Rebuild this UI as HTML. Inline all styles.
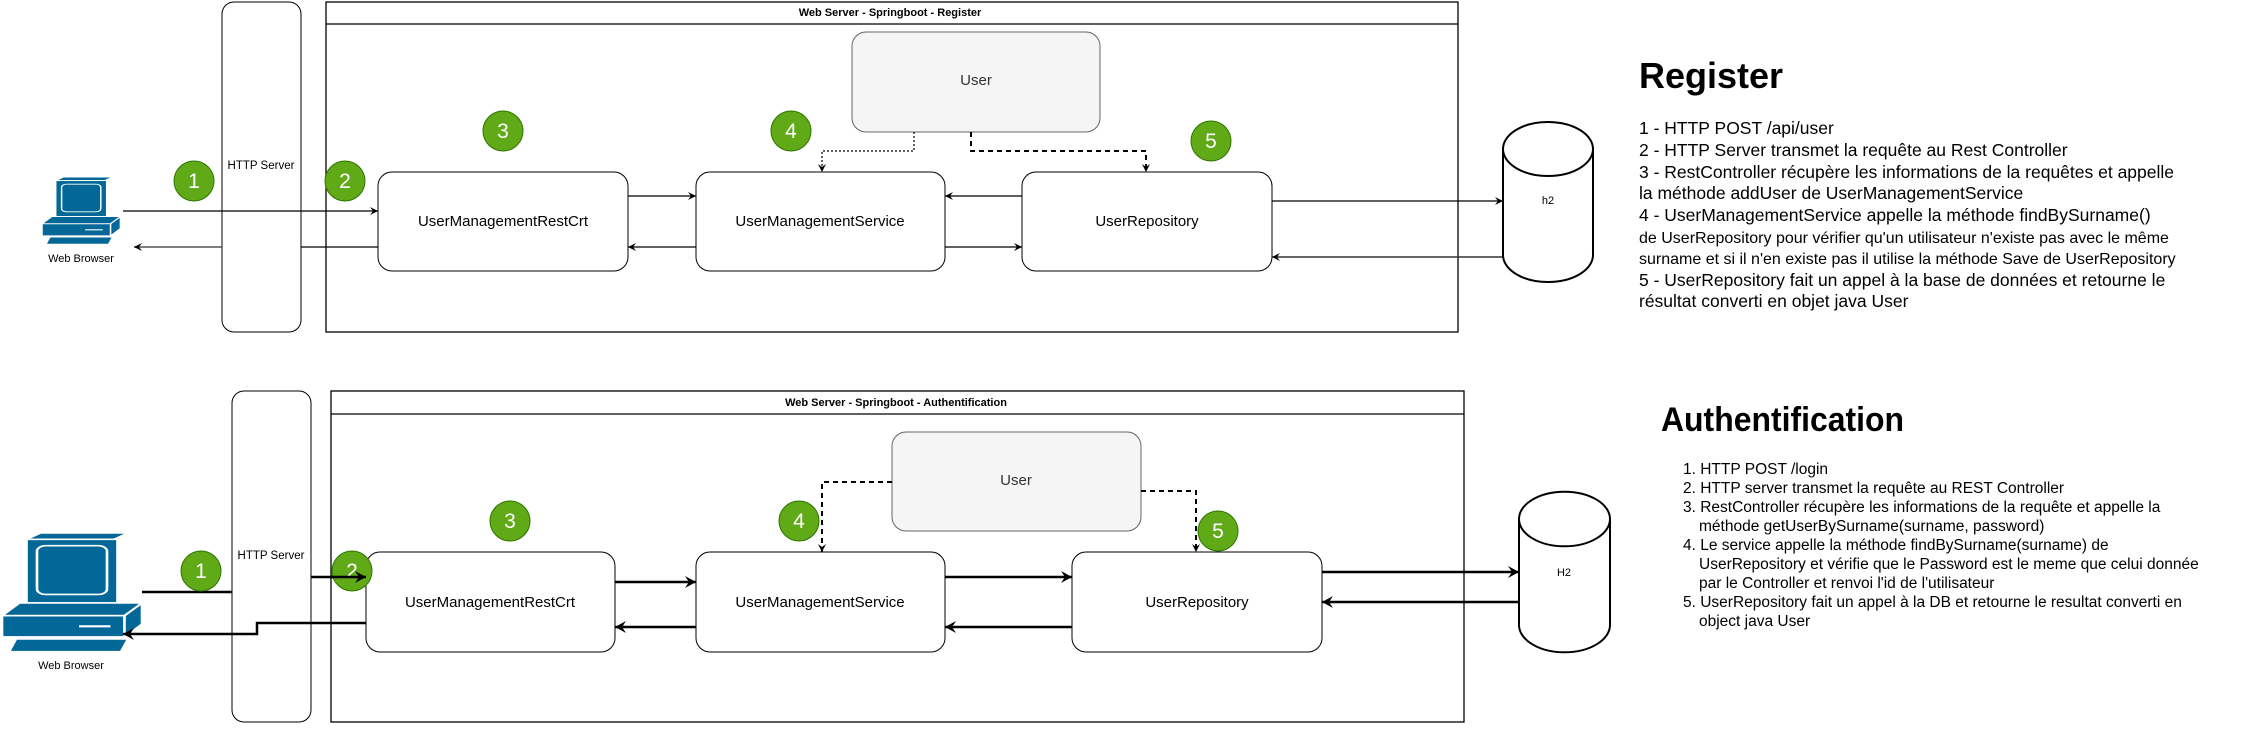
<!DOCTYPE html>
<html><head><meta charset="utf-8"><style>
html,body{margin:0;padding:0;background:#fff;}
svg{display:block;font-family:"Liberation Sans",Arial,sans-serif;}
</style></head><body>
<svg width="2253" height="750" viewBox="0 0 2253 750" xmlns="http://www.w3.org/2000/svg">
<defs>
<marker id="a" markerWidth="10" markerHeight="10" refX="8" refY="5" orient="auto" markerUnits="userSpaceOnUse"><path d="M0,1 L8,5 L0,9 L3,5 Z" fill="#000"/></marker>
<marker id="b" markerWidth="14" markerHeight="14" refX="11" refY="7" orient="auto" markerUnits="userSpaceOnUse"><path d="M0,1 L11,7 L0,13 L4,7 Z" fill="#000"/></marker>
<g id="pc">
<polygon points="14,6 24,0 24,58 14,64" fill="#036897" stroke="#fff" stroke-width="1.5"/>
<polygon points="14,6 64,6 72,0 22,0" fill="#036897" stroke="#fff" stroke-width="1.5"/>
<rect x="14" y="6" width="52" height="60" fill="#036897" stroke="#fff" stroke-width="1.5"/>
<rect x="20" y="12" width="40" height="46" rx="5" fill="#036897" stroke="#fff" stroke-width="1.5"/>
<polygon points="0,78 10,66 80,66 70,78" fill="#036897" stroke="#fff" stroke-width="1.5"/>
<rect x="0" y="78" width="70" height="20" fill="#036897" stroke="#fff" stroke-width="1.5"/>
<polygon points="70,78 80,66 80,86 70,98" fill="#036897" stroke="#fff" stroke-width="1.5"/>
<line x1="44" y1="88" x2="62" y2="88" stroke="#fff" stroke-width="2"/>
<polygon points="4,112 8,100 72,100 68,112" fill="#036897" stroke="#fff" stroke-width="1.5"/>
</g>
</defs>

<!-- ============ REGISTER ============ -->
<rect x="326" y="2" width="1132" height="330" fill="#fff" stroke="#000" stroke-width="1.3"/>
<line x1="326" y1="24" x2="1458" y2="24" stroke="#000" stroke-width="1.3"/>
<text x="890" y="16" font-size="11" font-weight="bold" text-anchor="middle">Web Server - Springboot -  Register</text>

<rect x="222" y="2" width="79" height="330" rx="12" fill="#fff" stroke="#000" stroke-width="1"/>
<line x1="123" y1="211" x2="378" y2="211" stroke="#000" stroke-width="1.2" marker-end="url(#a)"/>
<text x="261" y="169" font-size="11.5" text-anchor="middle">HTTP Server</text>
<line x1="378" y1="247" x2="301" y2="247" stroke="#000" stroke-width="1.2"/>
<line x1="222" y1="247" x2="134" y2="247" stroke="#555" stroke-width="1.5" marker-end="url(#a)"/>

<use href="#pc" transform="translate(42,177) scale(0.98,0.6)"/>
<text x="81" y="262" font-size="11" text-anchor="middle">Web Browser</text>

<rect x="378" y="172" width="250" height="99" rx="14" fill="#fff" stroke="#000" stroke-width="1"/>
<text x="503" y="226" font-size="15" text-anchor="middle">UserManagementRestCrt</text>
<rect x="696" y="172" width="249" height="99" rx="14" fill="#fff" stroke="#000" stroke-width="1"/>
<text x="820" y="226" font-size="15" text-anchor="middle">UserManagementService</text>
<rect x="1022" y="172" width="250" height="99" rx="14" fill="#fff" stroke="#000" stroke-width="1"/>
<text x="1147" y="226" font-size="15" text-anchor="middle">UserRepository</text>

<rect x="852" y="32" width="248" height="100" rx="14" fill="#f5f5f5" stroke="#666" stroke-width="1"/>
<text x="976" y="85" font-size="15" fill="#333" text-anchor="middle">User</text>

<line x1="628" y1="196" x2="696" y2="196" stroke="#000" stroke-width="1.2" marker-end="url(#a)"/>
<line x1="696" y1="247" x2="628" y2="247" stroke="#000" stroke-width="1.2" marker-end="url(#a)"/>
<line x1="1022" y1="196" x2="945" y2="196" stroke="#000" stroke-width="1.2" marker-end="url(#a)"/>
<line x1="945" y1="247" x2="1022" y2="247" stroke="#000" stroke-width="1.2" marker-end="url(#a)"/>
<polyline points="914,132 914,151 822,151 822,172" fill="none" stroke="#000" stroke-width="1.2" stroke-dasharray="2,2" marker-end="url(#a)"/>
<polyline points="971,132 971,151 1146,151 1146,172" fill="none" stroke="#000" stroke-width="2" stroke-dasharray="5,4" marker-end="url(#a)"/>

<line x1="1272" y1="201" x2="1503" y2="201" stroke="#000" stroke-width="1.2" marker-end="url(#a)"/>
<line x1="1503" y1="257" x2="1272" y2="257" stroke="#333" stroke-width="1.5" marker-end="url(#a)"/>

<path d="M1503,149 L1503,255 A45,27 0 0 0 1593,255 L1593,149 A45,27 0 0 0 1503,149 Z" fill="#fff" stroke="#000" stroke-width="2"/>
<path d="M1503,149 A45,27 0 0 0 1593,149" fill="none" stroke="#000" stroke-width="2"/>
<text x="1548" y="204" font-size="11" text-anchor="middle">h2</text>

<g font-size="21" fill="#fff" text-anchor="middle">
<ellipse cx="194" cy="181" rx="20" ry="20" fill="#60a917" stroke="#2d7600"/><text x="194" y="188">1</text>
<ellipse cx="345" cy="181" rx="20" ry="20" fill="#60a917" stroke="#2d7600"/><text x="345" y="188">2</text>
<ellipse cx="503" cy="131" rx="20" ry="20" fill="#60a917" stroke="#2d7600"/><text x="503" y="138">3</text>
<ellipse cx="791" cy="131" rx="20" ry="20" fill="#60a917" stroke="#2d7600"/><text x="791" y="138">4</text>
<ellipse cx="1211" cy="141" rx="20" ry="20" fill="#60a917" stroke="#2d7600"/><text x="1211" y="148">5</text>
</g>

<text x="1639" y="88" font-size="36" font-weight="bold">Register</text>
<g font-size="17.5">
<text x="1639" y="134">1 - HTTP POST /api/user</text>
<text x="1639" y="156">2 - HTTP Server transmet la requête au Rest Controller</text>
<text x="1639" y="178">3 - RestController récupère les informations de la requêtes et appelle</text>
<text x="1639" y="199">la méthode addUser de UserManagementService</text>
<text x="1639" y="221">4 - UserManagementService appelle la méthode findBySurname()</text>
<text x="1639" y="243" font-size="16">de UserRepository pour vérifier qu'un utilisateur n'existe pas avec le même</text>
<text x="1639" y="264" font-size="16">surname et si il n'en existe pas il utilise la méthode Save de UserRepository</text>
<text x="1639" y="286">5 - UserRepository fait un appel à la base de données et retourne le</text>
<text x="1639" y="307">résultat converti en objet java User</text>
</g>

<!-- ============ AUTH ============ -->
<rect x="331" y="391" width="1133" height="331" fill="#fff" stroke="#000" stroke-width="1.3"/>
<line x1="331" y1="414" x2="1464" y2="414" stroke="#000" stroke-width="1.3"/>
<text x="896" y="406" font-size="11" font-weight="bold" text-anchor="middle">Web Server - Springboot - Authentification</text>

<rect x="232" y="391" width="79" height="331" rx="12" fill="#fff" stroke="#000" stroke-width="1"/>
<text x="271" y="559" font-size="11.5" text-anchor="middle">HTTP Server</text>

<use href="#pc" transform="translate(2,533) scale(1.75,1.06)"/>
<text x="71" y="669" font-size="11" text-anchor="middle">Web Browser</text>

<line x1="142" y1="592" x2="232" y2="592" stroke="#000" stroke-width="2.5"/>
<polyline points="366,623 257,623 257,634 123,634" fill="none" stroke="#000" stroke-width="2.5" marker-end="url(#b)"/>

<rect x="366" y="552" width="249" height="100" rx="14" fill="#fff" stroke="#000" stroke-width="1"/>
<text x="490" y="607" font-size="15" text-anchor="middle">UserManagementRestCrt</text>
<rect x="696" y="552" width="249" height="100" rx="14" fill="#fff" stroke="#000" stroke-width="1"/>
<text x="820" y="607" font-size="15" text-anchor="middle">UserManagementService</text>
<rect x="1072" y="552" width="250" height="100" rx="14" fill="#fff" stroke="#000" stroke-width="1"/>
<text x="1197" y="607" font-size="15" text-anchor="middle">UserRepository</text>

<rect x="892" y="432" width="249" height="99" rx="14" fill="#f5f5f5" stroke="#666" stroke-width="1"/>
<text x="1016" y="485" font-size="15" fill="#333" text-anchor="middle">User</text>

<line x1="615" y1="582" x2="696" y2="582" stroke="#000" stroke-width="2.5" marker-end="url(#b)"/>
<line x1="696" y1="627" x2="615" y2="627" stroke="#000" stroke-width="2.5" marker-end="url(#b)"/>
<line x1="945" y1="577" x2="1072" y2="577" stroke="#000" stroke-width="2.5" marker-end="url(#b)"/>
<line x1="1072" y1="627" x2="945" y2="627" stroke="#000" stroke-width="2.5" marker-end="url(#b)"/>
<polyline points="892,482 822,482 822,552" fill="none" stroke="#000" stroke-width="2" stroke-dasharray="5,4" marker-end="url(#a)"/>
<polyline points="1141,491 1196,491 1196,552" fill="none" stroke="#000" stroke-width="2" stroke-dasharray="5,4" marker-end="url(#a)"/>

<line x1="1322" y1="572" x2="1519" y2="572" stroke="#000" stroke-width="2.5" marker-end="url(#b)"/>
<line x1="1519" y1="602" x2="1322" y2="602" stroke="#000" stroke-width="2.5" marker-end="url(#b)"/>

<path d="M1519,519 L1519,625 A45,27 0 0 0 1610,625 L1610,519 A45,27 0 0 0 1519,519 Z" fill="#fff" stroke="#000" stroke-width="2"/>
<path d="M1519,519 A45,27 0 0 0 1610,519" fill="none" stroke="#000" stroke-width="2"/>
<text x="1564" y="576" font-size="11" text-anchor="middle">H2</text>

<line x1="311" y1="577" x2="366" y2="577" stroke="#000" stroke-width="2.5"/>
<g font-size="21" fill="#fff" text-anchor="middle">
<ellipse cx="201" cy="571" rx="20" ry="20" fill="#60a917" stroke="#2d7600"/><text x="201" y="578">1</text>
<ellipse cx="352" cy="571" rx="20" ry="20" fill="#60a917" stroke="#2d7600"/><text x="352" y="578">2</text>
<ellipse cx="510" cy="521" rx="20" ry="20" fill="#60a917" stroke="#2d7600"/><text x="510" y="528">3</text>
<ellipse cx="799" cy="521" rx="20" ry="20" fill="#60a917" stroke="#2d7600"/><text x="799" y="528">4</text>
<ellipse cx="1218" cy="531" rx="20" ry="20" fill="#60a917" stroke="#2d7600"/><text x="1218" y="538">5</text>
</g>
<line x1="330" y1="577" x2="366" y2="577" stroke="#000" stroke-width="2.5" marker-end="url(#b)"/>

<text x="1661" y="431" font-size="34" font-weight="bold" textLength="243" lengthAdjust="spacingAndGlyphs">Authentification</text>
<g font-size="15.5">
<text x="1683" y="474">1. HTTP POST /login</text>
<text x="1683" y="493">2. HTTP server transmet la  requête au REST Controller</text>
<text x="1683" y="512">3. RestController récupère les informations de la requête et appelle la</text>
<text x="1699" y="531">méthode getUserBySurname(surname, password)</text>
<text x="1683" y="550">4. Le service appelle la méthode findBySurname(surname) de</text>
<text x="1699" y="569">UserRepository et vérifie que le Password est le meme que celui donnée</text>
<text x="1699" y="588">par le Controller et renvoi l'id de l'utilisateur</text>
<text x="1683" y="607">5. UserRepository fait un appel à la DB et retourne le resultat converti en</text>
<text x="1699" y="626">object java User</text>
</g>
</svg>
</body></html>
